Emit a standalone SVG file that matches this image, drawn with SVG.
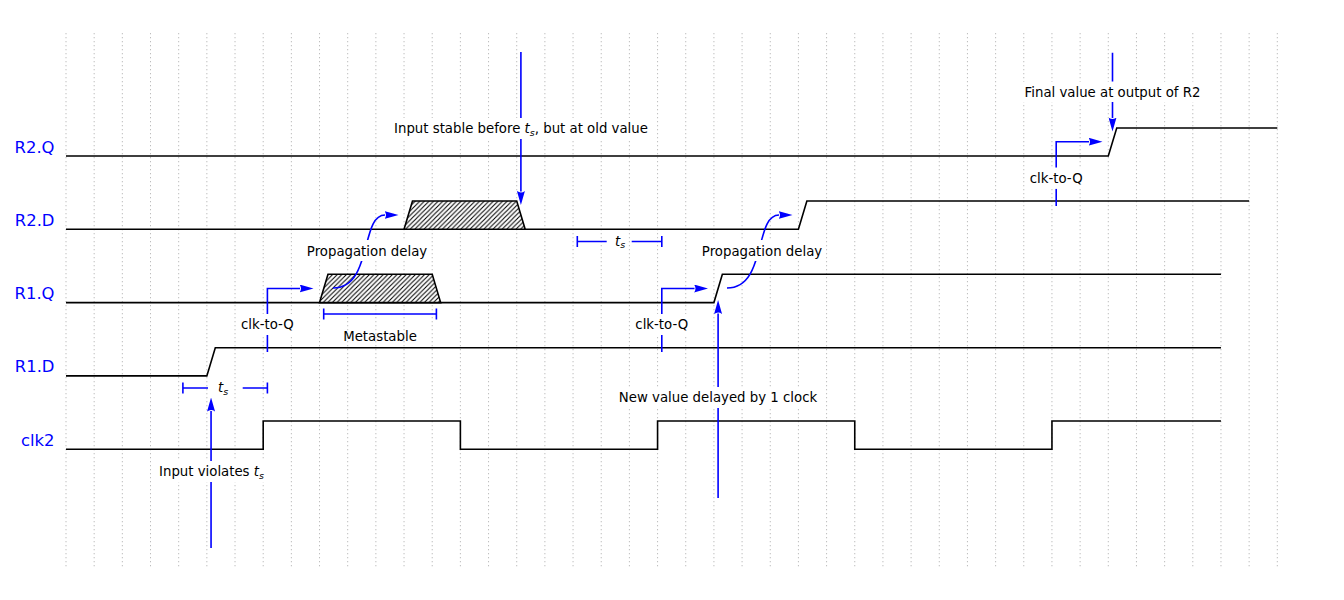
<svg xmlns="http://www.w3.org/2000/svg" width="1344" height="600" viewBox="0 0 1344 600">
<style>
.grid{stroke:#bdbdbd;stroke-width:1;stroke-dasharray:1.3 2.7;fill:none}
.sig{stroke:#000;stroke-width:1.6;fill:none;stroke-linejoin:miter}
.hatch{stroke:#000;stroke-width:1.6;fill:url(#hp)}
.lbl{font-family:"DejaVu Sans",sans-serif;font-size:16.4px;fill:#0000ff;text-anchor:end}
.ann{font-family:"DejaVu Sans",sans-serif;font-size:13.3px;fill:#000;text-anchor:middle}
.it{font-style:italic}
.sub{font-size:9.5px;font-style:italic}
.bl{stroke:#0000ff;stroke-width:1.6;fill:none}
.arr{marker-end:url(#ah)}
.bg{fill:#fff}
</style>
<defs>
<pattern id="hp" patternUnits="userSpaceOnUse" width="4.6" height="4.6">
<rect width="4.6" height="4.6" fill="#fff"/>
<path d="M-1,1 L1,-1 M0,4.6 L4.6,0 M3.6,5.6 L5.6,3.6" stroke="#000" stroke-width="1.05"/>
</pattern>
<marker id="ah" viewBox="0 0 14 8" refX="0.5" refY="4" markerWidth="14" markerHeight="8" markerUnits="userSpaceOnUse" orient="auto">
<path d="M0,0 L14,4 L0,8 Q3,4 0,0 Z" fill="#0000ff"/>
</marker>
</defs>
<rect width="1344" height="600" fill="#fff"/>
<g id="grid">
<path class="grid" d="M66,33V567M94.17,33V567M122.34,33V567M150.51,33V567M178.68,33V567M206.85,33V567M235.02,33V567M263.19,33V567M291.36,33V567M319.53,33V567M347.7,33V567M375.87,33V567M404.04,33V567M432.21,33V567M460.38,33V567M488.55,33V567M516.72,33V567M544.89,33V567M573.06,33V567M601.23,33V567M629.4,33V567M657.57,33V567M685.74,33V567M713.91,33V567M742.08,33V567M770.25,33V567M798.42,33V567M826.59,33V567M854.76,33V567M882.93,33V567M911.1,33V567M939.27,33V567M967.44,33V567M995.61,33V567M1023.78,33V567M1051.95,33V567M1080.12,33V567M1108.29,33V567M1136.46,33V567M1164.63,33V567M1192.8,33V567M1220.97,33V567M1249.14,33V567M1277.31,33V567"/>
</g>
<g id="sig-R2Q">
<text class="lbl" x="54.5" y="152.5">R2.Q</text>
<path class="sig" d="M66,156H1108.29L1116.74,128H1277.31"/>
</g>
<g id="sig-R2D">
<text class="lbl" x="54.5" y="225.8">R2.D</text>
<path class="sig" d="M66,229.3H798.42L806.87,201H1249.14"/>
<polygon class="hatch" points="404.04,229.3 412.49,201 516.72,201 525.17,229.3"/>
</g>
<g id="sig-R1Q">
<text class="lbl" x="54.5" y="299.1">R1.Q</text>
<path class="sig" d="M66,302.6H713.91L722.36,274.3H1220.97"/>
<polygon class="hatch" points="319.53,302.6 327.98,274.3 432.21,274.3 440.66,302.6"/>
</g>
<g id="sig-R1D">
<text class="lbl" x="54.5" y="372.4">R1.D</text>
<path class="sig" d="M66,375.9H206.85L215.3,347.7H1220.97"/>
</g>
<g id="sig-clk2">
<text class="lbl" x="54.5" y="445.7">clk2</text>
<path class="sig" d="M66,449.2H263.19V421H460.38V449.2H657.57V421H854.76V449.2H1051.95V421H1220.97"/>
</g>
<g id="connectors">
<path class="bl arr" d="M211.05,548V482M211.05,461V411"/>
<path class="bl" d="M182.9,388H208M242.7,388H267.4M182.9,382.5V393.5M267.4,382.5V393.5"/>
<path class="bl" d="M267.4,352V335"/>
<path class="bl arr" d="M267.4,314V288.5H300"/>
<path class="bl" d="M323.7,314H436.4M323.7,308.5V319.5M436.4,308.5V319.5"/>
<path class="bl arr" d="M333,288C373,288 360,215 385,215"/>
<path class="bl arr" d="M520.9,52V118M520.9,139V191.5"/>
<path class="bl" d="M577.3,241.5H606.7M631.7,241.5H661.8M577.3,236V247M661.8,236V247"/>
<path class="bl" d="M661.8,352V335"/>
<path class="bl arr" d="M661.8,314V288.5H694.5"/>
<path class="bl arr" d="M727,288C767,288 754,215 779,215"/>
<path class="bl arr" d="M718.1,498V408M718.1,387V313.5"/>
<path class="bl" d="M1056.2,206V188.7"/>
<path class="bl arr" d="M1056.2,167.7V141.7H1089"/>
<path class="bl arr" d="M1112.5,52.7V81.7M1112.5,102V118"/>
</g>
<g id="ann-violates">
<rect class="bg" x="154" y="461" width="115" height="21"/>
<text class="ann" x="211.5" y="476">Input violates <tspan class="it">t</tspan><tspan class="sub" dy="2.5">s</tspan></text>
</g>
<g id="ann-ts1">
<text class="ann" x="223" y="392"><tspan class="it">t</tspan><tspan class="sub" dy="2.5">s</tspan></text>
</g>
<g id="ann-clkq1">
<rect class="bg" x="237" y="314" width="61" height="21"/>
<text class="ann" x="267.4" y="328.5">clk-to-Q</text>
</g>
<g id="ann-meta">
<text class="ann" x="380" y="340.5">Metastable</text>
</g>
<g id="ann-prop1">
<rect class="bg" x="303" y="240" width="128" height="21"/>
<text class="ann" x="367" y="255.5">Propagation delay</text>
</g>
<g id="ann-stable">
<rect class="bg" x="390" y="118" width="262" height="21"/>
<text class="ann" x="521" y="133">Input stable before <tspan class="it">t</tspan><tspan class="sub" dy="2.5">s</tspan><tspan dy="-2.5">, but at old value</tspan></text>
</g>
<g id="ann-ts2">
<text class="ann" x="620" y="245.5"><tspan class="it">t</tspan><tspan class="sub" dy="2.5">s</tspan></text>
</g>
<g id="ann-clkq2">
<rect class="bg" x="631" y="314" width="61" height="21"/>
<text class="ann" x="661.8" y="328.5">clk-to-Q</text>
</g>
<g id="ann-prop2">
<rect class="bg" x="698" y="240" width="128" height="21"/>
<text class="ann" x="762" y="255.5">Propagation delay</text>
</g>
<g id="ann-newval">
<rect class="bg" x="615" y="387" width="206" height="21"/>
<text class="ann" x="718" y="401.7">New value delayed by 1 clock</text>
</g>
<g id="ann-clkq3">
<rect class="bg" x="1025" y="167.7" width="62" height="21"/>
<text class="ann" x="1056.2" y="182.7">clk-to-Q</text>
</g>
<g id="ann-final">
<rect class="bg" x="1021" y="81.7" width="183" height="20.3"/>
<text class="ann" x="1112.5" y="96.7">Final value at output of R2</text>
</g>
</svg>
